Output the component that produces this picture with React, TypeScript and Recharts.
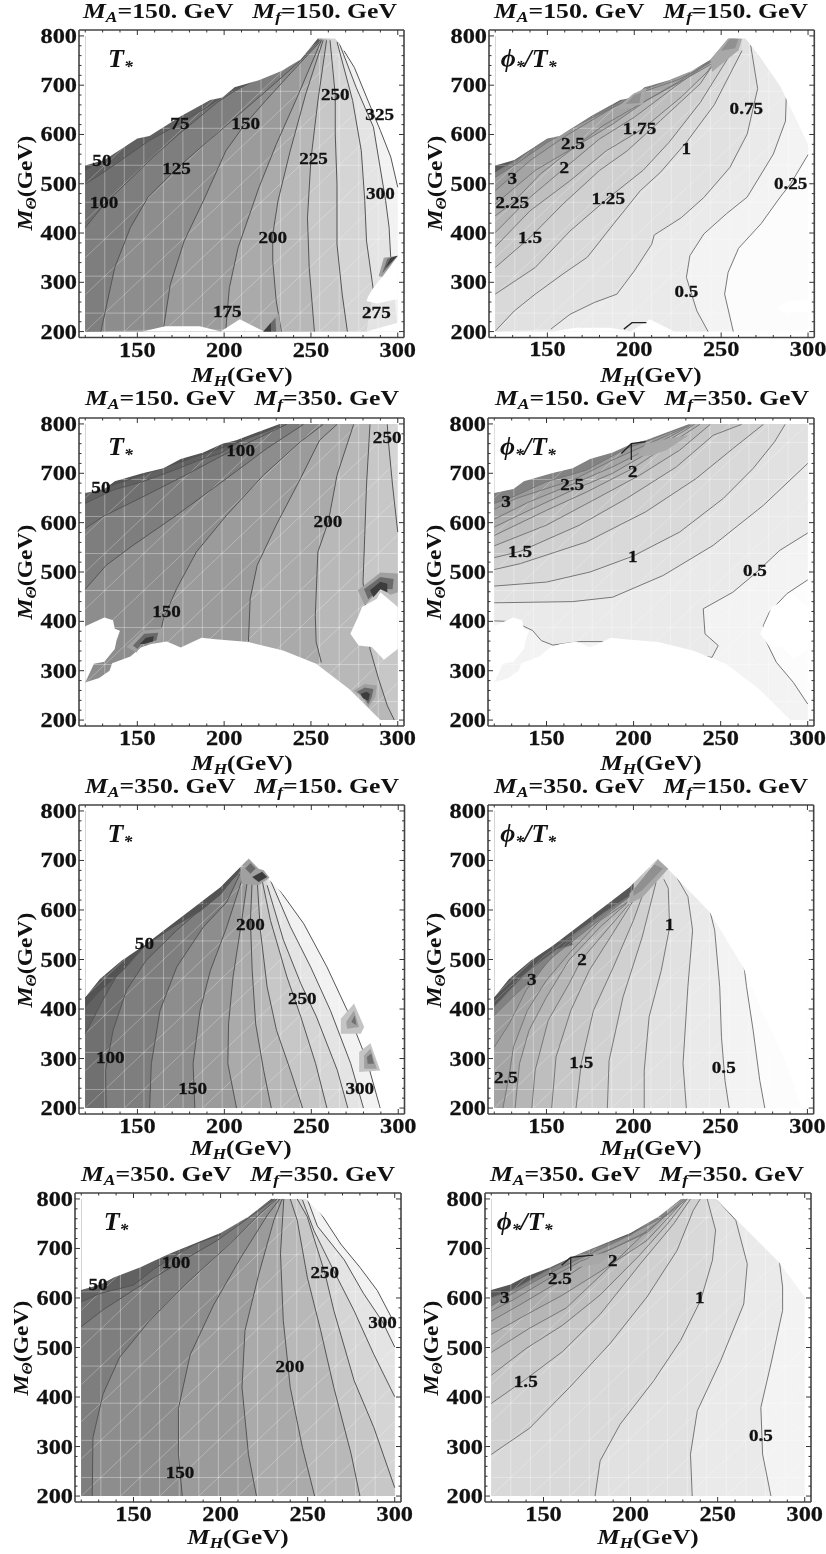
import React from "react";
import { ScatterChart, Scatter, XAxis, YAxis } from "recharts";

type P = [number, number];
type Contour = { level: number; line: P[]; under?: P[] };
type Blob = { ramp: "dark" | "light" | "fan"; layers: P[][] };
type Lab = [number, number, string];

const X_MIN = 120;
const X_MAX = 300;
const Y_MIN = 200;
const Y_MAX = 800;
const X_TICKS = [120, 130, 140, 150, 160, 170, 180, 190, 200, 210, 220, 230, 240, 250, 260, 270, 280, 290, 300];
const Y_TICKS = [200, 220, 240, 260, 280, 300, 320, 340, 360, 380, 400, 420, 440, 460, 480, 500, 520, 540, 560, 580, 600, 620, 640, 660, 680, 700, 720, 740, 760, 780, 800];

// upper edge of the region that has a solution
const TOP_LL: P[] = [[120, 537], [131, 548], [150, 592], [157, 597], [175, 637], [192, 670], [199, 675], [206, 696], [220, 710], [233, 729], [244, 752], [254, 795], [264, 795], [272, 759], [284, 698], [300, 580]];
const TOP_LH: P[] = [[120, 660], [131, 668], [137, 684], [153, 700], [165, 710], [175, 729], [188, 742], [199, 760], [207, 767], [232, 800], [300, 800]];
const TOP_HL: P[] = [[120, 424], [128.6, 461], [141, 498], [153.6, 528], [184, 609], [197.7, 646], [214, 704], [243.8, 596], [263, 485], [276.4, 377], [288, 290], [296.6, 200]];
const TOP_HH: P[] = [[120, 616], [131, 627], [139, 642], [154, 662], [165, 680], [171, 690], [200, 731], [216, 764], [229, 800], [249, 800], [285, 673], [300, 602]];

// white gaps
const HOLES_LL: P[][] = [
  [[300, 350], [291, 311], [286, 289], [283, 272], [282, 262], [288, 257], [300, 266]],
  [[300, 218], [282, 200], [300, 200]],
  [[153, 200], [166, 211], [186, 211], [198, 200], [209, 225], [223, 200]],
];
const HOLES_LH: P[][] = [
  [[120, 276], [128, 285], [134, 300], [135.5, 315], [146, 329], [152, 347], [158, 354], [167, 359], [175, 347], [187, 367], [195, 364], [214, 358], [234, 341], [253, 314], [272, 263], [290, 200], [120, 200]],
  [[120, 390], [131, 408], [136, 402], [137, 385], [140, 381], [138, 361], [137, 344], [131, 318], [125, 314], [120, 276]],
  [[290, 459], [300, 429], [300, 344], [292, 322], [285, 348], [277.5, 351], [272.7, 375], [277.5, 412], [279.4, 429], [288, 446]],
];

// M_A=150, M_f=150
const T_LL: Contour[] = [
  { level: 50, line: [[120, 527], [134, 560], [151, 600], [171, 640], [191, 669], [205, 693], [221, 713], [238, 744], [254, 793]] },
  { level: 75, line: [[120, 500], [128, 517], [142, 551], [157, 588], [174, 621], [190, 655], [203, 686], [221, 716], [238, 750], [254, 791]] },
  { level: 100, line: [[120, 411], [131, 459], [142, 496], [159, 554], [174, 601], [196, 665], [205, 686], [223, 720], [240, 757], [255, 791]] },
  { level: 125, line: [[129, 200], [137, 330], [146, 411], [156, 472], [173, 532], [190, 584], [209, 642], [230, 706], [244, 750], [255, 791]] },
  { level: 150, line: [[165, 205], [169, 296], [177, 384], [188, 465], [201, 567], [212, 621], [224, 669], [238, 723], [256, 791]] },
  { level: 175, line: [[201, 205], [203, 289], [208, 370], [220, 492], [230, 580], [242, 675], [256, 791]] },
  { level: 200, line: [[233, 200], [230, 262], [228, 343], [228, 397], [231, 465], [238, 566], [247, 682], [257, 791]] },
  { level: 225, line: [[252, 200], [249, 330], [248, 431], [250, 550], [254, 668], [259, 791]] },
  { level: 250, line: [[271, 200], [268, 276], [265, 377], [265, 499], [264, 601], [264, 680], [261, 791]] },
  { level: 275, under: [[282, 200]], line: [[286, 283], [282, 384], [281, 466], [279, 567], [274, 669], [265, 788]] },
  { level: 300, under: [[300, 200]], line: [[296, 347], [295, 412], [293, 466], [286, 615], [276, 696], [266, 788]] },
  { level: 325, line: [[300, 493], [296, 554], [290, 608], [282, 676], [275, 736], [269, 770]] },
];
const T_LL_LABELS: Lab[] = [[129.6, 547, "50"], [174.5, 622, "75"], [130.8, 462, "100"], [172.6, 531.5, "125"], [212.4, 622, "150"], [201.8, 240.7, "175"], [228, 391, "200"], [251.5, 550.5, "225"], [264, 680.6, "250"], [287.7, 239, "275"], [290, 480.7, "300"], [289.6, 640.7, "325"]];
const T_LL_BLOBS: Blob[] = [
  { ramp: "dark", layers: [[[222.6, 200], [231.7, 236.6], [232.6, 200]], [[222.6, 200], [229.5, 228], [230, 200]], [[222.6, 200], [227, 218], [227, 200]]] },
  { ramp: "dark", layers: [[[300, 354], [292, 350], [289, 313], [291, 311]], [[300, 354], [294, 348], [291, 318]], [[300, 354], [296, 350], [293, 330]]] },
];
const PHI_LL: Contour[] = [
  { level: 0.25, line: [[257, 200], [252, 276], [254, 320], [260, 369], [273, 419], [284, 473], [290, 500], [300, 559]] },
  { level: 0.5, line: [[242.5, 200], [236, 242], [230, 310], [232, 354], [240, 398], [253, 439], [265, 473], [280, 560], [287, 627], [287.5, 677]] },
  { level: 0.75, line: [[152, 205], [163, 235], [177, 259], [190, 276], [200, 323], [210, 377], [211.5, 396], [227, 431], [240, 472], [255, 533], [265, 601], [271, 693], [267, 781]] },
  { level: 1, line: [[120, 201], [131, 242], [143, 276], [159, 317], [173, 351], [188, 418], [203.5, 486], [215, 523], [230, 584], [246, 660], [262, 770]] },
  { level: 1.25, line: [[120, 276], [143, 330], [163, 404], [185, 471], [205, 527], [220, 584], [238, 665], [255, 761]] },
  { level: 1.5, line: [[120, 330], [140, 391], [159, 459], [180, 527], [196, 567], [215, 628], [238, 703], [254, 788]] },
  { level: 1.75, line: [[120, 372], [140, 445], [163, 506], [184, 567], [205, 611.5], [227, 676], [242, 727], [254, 788]] },
  { level: 2, line: [[120, 401], [140, 472.5], [160, 532], [180, 591], [200, 635], [223, 696], [242, 744], [255, 792]] },
  { level: 2.25, line: [[120, 435], [130, 461], [146, 520], [163, 567], [182, 618], [203.5, 662], [225, 706], [243, 747], [257, 794]] },
  { level: 2.5, line: [[120, 459], [143, 527], [166, 575], [188, 622], [207, 669], [226, 706], [245, 744], [258, 794]] },
  { level: 2.75, line: [[120, 486], [140, 547], [161, 598], [188, 655], [207, 689], [226, 712], [246, 750]] },
  { level: 3, line: [[120, 513], [132, 540], [150, 584], [169, 622], [190, 659], [207, 693], [222, 713], [246, 752]] },
  { level: 3.25, line: [[120, 523], [132, 548], [150, 591], [174, 635], [193, 669], [207, 696]] },
];
const PHI_LL_LABELS: Lab[] = [[129.8, 511, "3"], [129.8, 461, "2.25"], [140, 391, "1.5"], [159.7, 532, "2"], [164.7, 581, "2.5"], [185, 471, "1.25"], [203, 611.5, "1.75"], [230, 571, "1"], [264.5, 652, "0.75"], [230, 281, "0.5"], [290, 501, "0.25"]];
const PHI_LL_BLOBS: Blob[] = [
  { ramp: "fan", layers: [[[190, 654], [199.6, 683], [207, 695], [205, 662], [194, 652]], [[195, 662], [200, 680], [204, 685], [203, 664]]] },
  { ramp: "fan", layers: [[[243.8, 752], [254, 794], [262, 794], [260, 771], [244.8, 727]], [[250, 770], [255, 794], [260, 794], [258, 775]]] },
];
const PHI_LL_MARKS: P[][] = [[[194, 205], [198.7, 218], [207, 218]]];
const HOLES_PHI_LL: P[][] = [[[282, 250], [290, 262], [300, 265], [300, 240], [285, 238]], [[153, 200], [166, 208], [186, 208], [198, 200], [209, 225], [223, 200]]];

// M_A=150, M_f=350
const T_LH: Contour[] = [
  { level: 50, line: [[120, 661], [136, 676], [167, 713], [194, 746], [205, 759], [232, 795]] },
  { level: 75, line: [[120, 639], [136, 666], [153, 683], [171, 706], [186, 727], [197.6, 740], [209, 764], [232, 798]] },
  { level: 100, line: [[120, 588], [130, 612], [153, 652], [176, 693], [197.6, 733.5], [217, 767], [236, 799]] },
  { level: 125, line: [[120, 465], [132, 513.5], [147.5, 554], [172.6, 615], [201.4, 689.5], [224.5, 750], [245.7, 799]] },
  { level: 150, line: [[164, 388], [165, 405], [172.6, 466], [184, 540.6], [201.4, 615], [222.6, 696], [244, 764], [257, 799]] },
  { level: 175, line: [[214, 359], [215, 446], [219, 513.5], [230, 595], [244, 689.5], [255, 767], [265, 799]] },
  { level: 200, line: [[256, 317], [253, 358], [252.5, 412], [254, 540.6], [260, 601.5], [265, 696], [274.6, 799]] },
  { level: 225, line: [[298, 200], [294, 229], [289, 283], [284, 344], [280, 480], [281, 574], [282, 676], [284, 799]] },
  { level: 250, line: [[300, 581], [297, 676], [294.4, 773], [294, 799]] },
];
const T_LH_LABELS: Lab[] = [[129, 670.6, "50"], [209.5, 745.7, "100"], [166.8, 420.7, "150"], [259.8, 601.5, "200"], [293.9, 772.8, "250"]];
const T_LH_BLOBS: Blob[] = [
  { ramp: "dark", layers: [[[277, 463], [290, 499], [300, 497], [300, 459], [296, 454], [290, 466], [281, 432]], [[280.6, 465], [290, 490], [297.6, 486], [297, 465], [290, 466], [283, 445]], [[284, 463], [290, 480], [294, 476], [294, 459], [290, 465], [286, 449]]] },
  { ramp: "dark", layers: [[[143.7, 348], [153, 381], [165, 385], [163, 358], [153, 354], [149.5, 337]], [[147.5, 351], [154, 375], [162, 377], [161, 361], [153, 356], [150, 344]], [[151.4, 354], [155, 367], [159.5, 370], [159, 359], [154, 354]]] },
  { ramp: "dark", layers: [[[274.6, 260], [281, 273], [288, 270], [287, 246], [283, 226], [279.4, 246]], [[276.5, 257.5], [281, 266], [286, 263], [285, 246], [283, 232], [280, 249]], [[278.5, 253], [282, 257.5], [284, 253], [283, 239], [280, 244]]] },
];
const PHI_LH: Contour[] = [
  { level: 0.25, line: [[300, 232.5], [291.7, 276.5], [282, 317], [275.4, 364.5], [274.5, 391.6], [278, 418.7], [288, 456], [300, 484]] },
  { level: 0.5, line: [[120, 401], [127, 400], [136, 391.6], [142, 381.4], [147, 361], [153.6, 352], [169, 359], [182, 359], [245, 327], [248.6, 351], [241, 374.7], [240, 425.5], [257, 459], [269.7, 496.5], [284, 544], [300, 579]] },
  { level: 0.75, line: [[120, 437.6], [165, 440], [188, 449], [217, 493], [245.7, 554], [274.5, 635], [300, 720]] },
  { level: 1, line: [[120, 471.5], [150, 479.6], [175, 500], [199.6, 532], [226.5, 581], [251.5, 649], [268.7, 710], [281, 764], [287, 799]] },
  { level: 1.25, line: [[120, 505], [135, 517], [173, 561], [207, 622], [236, 689.5], [257, 750], [274.5, 799]] },
  { level: 1.5, line: [[120, 529], [135, 542], [169, 595], [196, 649], [224.6, 713], [245.7, 777], [262, 799]] },
  { level: 1.75, line: [[120, 553], [150, 595], [176.6, 645], [203.5, 696], [226.5, 747], [244, 799]] },
  { level: 2, line: [[120, 574], [150, 625], [173, 662], [199.6, 710], [211, 737], [238, 799]] },
  { level: 2.25, line: [[120, 591], [140, 625], [165, 666], [188, 700], [211, 747], [235, 799]] },
  { level: 2.5, line: [[120, 607], [140, 642], [165, 678], [188, 713], [207, 747], [233, 798]] },
  { level: 2.75, line: [[120, 627], [132.5, 649], [150, 669], [165, 686], [188, 727], [232, 797]] },
  { level: 3, line: [[120, 639], [130.6, 652], [150, 683], [172.6, 706], [195.7, 750], [207, 764], [232, 799]] },
];
const PHI_LH_LABELS: Lab[] = [[126.7, 642, "3"], [164.7, 678, "2.5"], [199.6, 703, "2"], [134.8, 542, "1.5"], [199.6, 532, "1"], [269.7, 503, "0.5"]];
const PHI_LH_BLOBS: Blob[] = [{ ramp: "fan", layers: [[[201.5, 733.5], [207, 760], [221, 771], [232, 777.5], [219, 747], [211, 737]]] }];
const PHI_LH_MARKS: P[][] = [[[193, 740], [198.7, 760], [207, 764]], [[198.7, 760], [198.7, 727]]];

// M_A=350, M_f=150
const T_HL: Contour[] = [
  { level: 50, line: [[120, 404], [128, 435], [142, 479], [154, 526.5], [171, 567], [186, 597.5], [197.6, 631], [209, 682]] },
  { level: 75, line: [[120, 350], [130, 417.5], [141, 485], [157, 539], [176, 586], [197.6, 632], [209, 680]] },
  { level: 100, line: [[132, 200], [131.7, 276], [136, 357], [143.7, 438], [155, 498], [172.6, 559], [193.7, 623], [208, 673]] },
  { level: 125, line: [[157, 200], [158, 289.6], [163, 397], [172.6, 485], [188, 566], [201.4, 616], [209, 673]] },
  { level: 150, line: [[183, 200], [182, 289.6], [186, 397], [192, 478], [201.4, 566], [210, 660]] },
  { level: 175, line: [[207, 200], [202, 289.6], [202.4, 370], [205, 465], [210, 579], [213, 653]] },
  { level: 200, line: [[227, 200], [222.6, 276], [218, 370], [216, 478], [215, 579], [216, 660]] },
  { level: 225, line: [[245, 200], [238, 276], [230, 357], [224.6, 444.4], [220.7, 559], [219, 653]] },
  { level: 250, line: [[259, 200], [252.5, 289.6], [244, 384], [236, 464.6], [226.5, 579], [221.7, 660]] },
  { level: 275, line: [[271, 200], [265, 276], [253, 384], [244, 451], [234, 539], [224.6, 650]] },
  { level: 300, line: [[280, 200], [272.7, 289.6], [261, 397], [249.6, 485], [238, 566], [226.5, 660]] },
  { level: 325, line: [[289.6, 200], [282, 296], [270.7, 397], [259, 485], [245.7, 572], [228.4, 656.6]] },
];
const T_HL_LABELS: Lab[] = [[154, 532, "50"], [134.4, 301.7, "100"], [181.8, 240, "150"], [215, 570, "200"], [244.8, 421, "250"], [277.9, 240, "300"]];
const T_HL_BLOBS: Blob[] = [
  { ramp: "dark", layers: [[[209, 673], [214, 702], [219.7, 683.5], [222.6, 680], [226, 665], [219.7, 650], [210, 653]], [[212, 684], [215, 695], [218, 684], [215, 673]], [[216, 666.6], [221.7, 677], [224.6, 666.6], [219.7, 656.6]]] },
  { ramp: "light", layers: [[[267, 380.5], [274.6, 411], [280.4, 363.6], [278.5, 350], [267, 350]], [[270, 374], [274.6, 397], [277.5, 363.6], [270.7, 360]], [[273, 374], [275, 387], [276, 367]]] },
  { ramp: "light", layers: [[[277.5, 313], [284, 331], [289.6, 276], [277.5, 273]], [[280.4, 306], [284, 320], [287.7, 279.5], [280.4, 279.5]], [[282, 303], [284.5, 310], [286, 289.6], [282.4, 289.6]]] },
];
const PHI_HL: Contour[] = [
  { level: 0.25, line: [[275.5, 200], [272.6, 256], [268.8, 357], [265, 445], [263.6, 485]] },
  { level: 0.5, line: [[255, 200], [252.6, 256], [250.6, 343], [249.6, 444], [246.7, 559], [244.2, 595]] },
  { level: 0.75, line: [[230.4, 200], [228.5, 289.6], [231.3, 445], [234, 559], [231.3, 627], [222.6, 680]] },
  { level: 1, line: [[206.2, 200], [206.2, 276], [209, 384], [216, 478], [220.8, 565], [220, 644], [217.5, 662]] },
  { level: 1.25, line: [[185, 200], [186, 296], [194, 424], [205, 545], [213, 656]] },
  { level: 1.5, line: [[167, 200], [170, 290], [177, 397], [188.5, 485], [200, 579], [207.6, 653]] },
  { level: 1.75, line: [[153, 200], [155.5, 303], [164, 397], [174.6, 478], [188, 552], [197.6, 606], [205, 647]] },
  { level: 2, line: [[141.6, 200], [143.5, 276], [151, 377], [163, 451], [170, 499], [186, 565], [197.6, 612]] },
  { level: 2.25, line: [[132, 200], [134.5, 289.6], [140, 357], [150, 424], [163, 499], [181, 566], [196, 613]] },
  { level: 2.5, line: [[125, 200], [129, 276], [131, 323], [139, 397], [150, 458], [163.7, 515], [181, 579], [196.6, 616]] },
  { level: 2.75, line: [[120, 323], [128.6, 370], [138.3, 438], [150, 492], [165, 546], [182.7, 593], [196.6, 623]] },
  { level: 3, line: [[120, 387], [130.6, 424], [141.6, 460], [153.6, 505], [173, 559], [190, 606], [200, 633]] },
  { level: 3.25, line: [[120, 404], [132.5, 451], [148, 505], [169, 559], [188, 606], [200, 633]] },
  { level: 3.5, line: [[120, 415], [129, 445], [142, 483], [156, 520], [165, 530]] },
];
const PHI_HL_LABELS: Lab[] = [[141.5, 460, "3"], [170.5, 500, "2"], [220.8, 570, "1"], [170, 291, "1.5"], [126.7, 261, "2.5"], [251.9, 281.5, "0.5"]];
const PHI_HL_BLOBS: Blob[] = [{ ramp: "fan", layers: [[[214, 702], [220, 683.5], [205.4, 626], [197.7, 613], [197.7, 633], [210, 683.5]], [[212, 692], [217, 684], [205, 640], [200, 628], [200, 640], [209, 680]]] }];

// M_A=350, M_f=350
const T_HH: Contour[] = [
  { level: 50, line: [[120, 614], [130, 634], [146, 654], [163, 681], [175, 695], [200, 728]] },
  { level: 75, line: [[120, 592], [130.6, 609], [150, 626], [162, 659], [175, 688], [198, 734], [217, 771], [229.6, 800]] },
  { level: 100, line: [[120, 542], [132.5, 576], [150, 616], [175, 669], [198, 716], [217, 764], [231, 800]] },
  { level: 125, line: [[126.3, 200], [126.7, 318], [132.5, 406], [142, 480], [159.4, 555], [182.5, 636], [205.6, 710], [222.9, 771], [232.5, 800]] },
  { level: 150, line: [[178, 200], [175.8, 284], [175.8, 377], [182.5, 485], [196, 586], [211.5, 681], [227, 768], [234, 800]] },
  { level: 175, line: [[220.6, 200], [216, 284], [212.3, 420], [214, 534], [222, 649], [230.6, 757], [235.4, 800]] },
  { level: 200, line: [[254, 200], [247, 298], [240, 419.6], [236, 554.8], [234.4, 690], [236.3, 800]] },
  { level: 225, line: [[280, 200], [275, 284.5], [265, 419.6], [257.5, 534], [249.8, 642], [244, 757], [240, 800]] },
  { level: 250, line: [[300, 217], [288, 338.5], [276.7, 433], [265, 575], [260, 649], [249.8, 764], [244, 800]] },
  { level: 275, line: [[300, 400.7], [288, 486], [276.7, 574], [265, 655], [253.6, 736], [247, 798]] },
  { level: 300, line: [[300, 501], [293, 552], [282, 609.6], [271, 677], [255.6, 745], [250, 798]] },
  { level: 325, line: [[300, 548], [290, 615], [280, 662], [269, 709], [255.6, 781]] },
];
const T_HH_LABELS: Lab[] = [[129.6, 627, "50"], [174.4, 671, "100"], [176.7, 247, "150"], [239.8, 461.5, "200"], [259.8, 650.7, "250"], [293, 551, "300"]];
const PHI_HH: Contour[] = [
  { level: 0.5, line: [[280.6, 200], [275.8, 284.5], [274.8, 379], [280.6, 467], [287.3, 575], [287.3, 622], [285.4, 676]] },
  { level: 0.75, line: [[235.4, 200], [234.4, 284.5], [238.3, 372], [251.7, 473], [265, 588], [267, 669], [260.4, 757], [249.8, 798]] },
  { level: 1, line: [[179.6, 200], [182.5, 271], [194, 345], [213.3, 433], [228.7, 514], [240.2, 595], [247, 676], [248.8, 737], [244, 800]] },
  { level: 1.25, line: [[120, 284], [142, 337], [165, 419.6], [188, 507], [209.4, 602], [226.7, 696], [236, 777], [240, 800]] },
  { level: 1.5, line: [[120, 387], [139.8, 436], [161, 492], [182.5, 567], [205.6, 669], [224.8, 750], [234.4, 800]] },
  { level: 1.75, line: [[120, 444], [140, 498], [161, 545], [182.5, 606], [205.6, 688], [221, 749], [232.5, 800]] },
  { level: 2, line: [[120, 490], [142, 539], [163, 579.7], [189.8, 669], [209.4, 736], [232.5, 800]] },
  { level: 2.25, line: [[120, 526.5], [140, 566], [161, 606], [182.5, 653.4], [209.4, 716], [231.5, 800]] },
  { level: 2.5, line: [[120, 553.4], [136.3, 586], [159.4, 634], [182.5, 688], [209.4, 732], [230.6, 800]] },
  { level: 2.75, line: [[120, 573.6], [132.5, 596], [151.7, 636.5], [171, 673.6], [190, 700.6], [209.4, 734]] },
  { level: 3, line: [[120, 584.5], [132.5, 609.6], [151.7, 646.6], [171, 680], [194, 717], [221, 768]] },
  { level: 3.25, line: [[120, 600], [133, 617], [152, 655], [171, 690], [200, 727], [229, 799]] },
];
const PHI_HH_LABELS: Lab[] = [[127.7, 600.7, "3"], [159.4, 639, "2.5"], [189.8, 675, "2"], [139.8, 431, "1.5"], [239.8, 600.7, "1"], [274.8, 321.6, "0.5"]];
const PHI_HH_BLOBS: Blob[] = [{ ramp: "fan", layers: [[[167, 660], [178.6, 687], [190, 694], [182.5, 670]]] }];
const PHI_HH_MARKS: P[][] = [[[160.4, 666], [165.6, 682], [178.6, 686.5]], [[165.6, 682], [165.6, 655]]];

const RAMPS = {
  dark: ["#a0a0a0", "#6a6a6a", "#3c3c3c"],
  light: ["#c4c4c4", "#a0a0a0", "#707070"],
  fan: ["#a8a8a8", "#909090", "#787878"],
};

// upperLeft: +1 when the value grows towards the top left corner, -1 when it falls
const METRICS = {
  T: {
    step: 25,
    upperLeft: -1,
    gray: (v: number) => 90 + (v - 50) * 0.58,
    stroke: "#555",
  },
  PHI: {
    step: 0.25,
    upperLeft: 1,
    gray: (v: number) => (v <= 3 ? 256 - 35 * v : Math.max(85, 151 - (v - 3) * 170)),
    stroke: "#777",
  },
};

const shade = (g: number) => {
  const n = Math.max(0, Math.min(255, Math.round(g)));
  return `rgb(${n},${n},${n})`;
};
const pts = (list: P[]) => list.map(([x, y]) => ({ x, y }));
const NoDot = () => <g />;

function darkSide(c: Contour): P[] {
  const line = [...(c.under ?? []), ...c.line];
  const first = line[0];
  const last = line[line.length - 1];
  const out: P[] = [...line, [last[0], Y_MAX], [X_MIN, Y_MAX]];
  if (first[0] > X_MIN) {
    out.push([X_MIN, Y_MIN]);
    if (first[0] >= X_MAX) out.push([X_MAX, Y_MIN]);
  }
  return out;
}

function maskOf(top: P[]): P[] {
  const last = top[top.length - 1];
  return [...top, [X_MAX, last[1]], [X_MAX, Y_MAX], [X_MIN, Y_MAX]];
}

// faint mesh lines left by the contour renderer
const MESH_X = [131.25, 142.5, 153.75, 165, 176.25, 187.5, 198.75, 210, 221.25, 232.5, 243.75, 255, 266.25, 277.5, 288.75];
const MESH_Y = [237.5, 312.5, 387.5, 462.5, 537.5, 612.5, 687.5, 762.5];
function diagonals(): P[][] {
  const out: P[][] = [];
  for (let k = -14; k < 10; k++) {
    const s = 108.75 + 22.5 * k;
    const xAt = (y: number) => s + ((y - 237.5) * 22.5) / 75;
    const yAt = (x: number) => 237.5 + ((x - s) * 75) / 22.5;
    const a: P = xAt(Y_MIN) >= X_MIN ? [xAt(Y_MIN), Y_MIN] : [X_MIN, yAt(X_MIN)];
    const b: P = xAt(Y_MAX) <= X_MAX ? [xAt(Y_MAX), Y_MAX] : [X_MAX, yAt(X_MAX)];
    if (a[0] < b[0] && a[1] < b[1] && a[0] <= X_MAX && a[1] <= Y_MAX) out.push([a, b]);
  }
  return out;
}
const MESH: { seg: P[]; o: number }[] = [
  ...MESH_X.map((x) => ({ seg: [[x, Y_MIN], [x, Y_MAX]] as P[], o: 0.34 })),
  ...MESH_Y.map((y) => ({ seg: [[X_MIN, y], [X_MAX, y]] as P[], o: 0.34 })),
  ...diagonals().map((seg) => ({ seg, o: 0.28 })),
];

const SERIF = "'Liberation Serif', 'Times New Roman', serif";
const STRETCH = 1.16;

function XTick(props: any) {
  const { x, y, payload, side } = props;
  const major = payload.value % 50 === 0;
  const dir = side === "bottom" ? -1 : 1;
  const label = side === "bottom" && major && payload.value !== 120;
  return (
    <g>
      <line x1={x} x2={x} y1={y} y2={y + dir * (major ? 5 : 2.5)} stroke="#333" strokeWidth={1} />
      {label && (
        <text transform={`translate(${x},${y + 19}) scale(${STRETCH},1)`} textAnchor="middle" fontFamily={SERIF} fontWeight="bold" fontSize={21} fill="#111" stroke="#111" strokeWidth={0.25}>
          {payload.value}
        </text>
      )}
    </g>
  );
}

function YTick(props: any) {
  const { x, y, payload, side } = props;
  const major = payload.value % 100 === 0;
  const dir = side === "left" ? 1 : -1;
  return (
    <g>
      <line x1={x} x2={x + dir * (major ? 5 : 2.5)} y1={y} y2={y} stroke="#333" strokeWidth={1} />
      {side === "left" && major && (
        <text transform={`translate(${x - 2},${y + 7}) scale(${STRETCH},1)`} textAnchor="end" fontFamily={SERIF} fontWeight="bold" fontSize={21} fill="#111" stroke="#111" strokeWidth={0.25}>
          {payload.value}
        </text>
      )}
    </g>
  );
}

function ContourLabel(props: any) {
  const { cx, cy, payload } = props;
  return (
    <text transform={`translate(${cx},${cy + 5.5}) scale(${STRETCH},1)`} textAnchor="middle" fontFamily={SERIF} fontWeight="bold" fontSize={16.5} fill="#111" stroke="#111" strokeWidth={0.25}>
      {payload.text}
    </text>
  );
}

const subStyle: React.CSSProperties = { fontSize: "0.68em", verticalAlign: "-0.28em", lineHeight: 0 };

function MassTitle({ left, top, ma, mf }: { left: number; top: number; ma: string; mf: string }) {
  return (
    <div style={{ position: "absolute", left, top, whiteSpace: "pre", fontFamily: SERIF, fontWeight: "bold", fontSize: 20, lineHeight: "23px", color: "#111", transformOrigin: "0 0", transform: "scaleX(1.285)" }}>
      <i>M<span style={subStyle}>A</span></i>={ma}. GeV{"   "}<i>M<span style={subStyle}>f</span></i>={mf}. GeV
    </div>
  );
}

type PanelProps = {
  left: number;
  top: number;
  width: number;
  height: number;
  ma: string;
  mf: string;
  titleLeft: number;
  titleTop: number;
  labelDrop: number;
  metric: "T" | "PHI";
  edge: P[];
  contours: Contour[];
  labels: Lab[];
  holes?: P[][];
  blobs?: Blob[];
  marks?: P[][];
};

const X_DOMAIN = [116.4, 303.6];
const Y_DOMAIN = [188, 812];
const LEFT_W = 60;
const RIGHT_W = 22;
const TOP_H = 6;
const BOTTOM_H = 30;

function Panel(p: PanelProps) {
  const m = METRICS[p.metric];
  // painted from the biggest region down to the smallest
  const order = [...p.contours].sort((a, b) => (a.level - b.level) * m.upperLeft);
  const base = shade(m.gray(order[0].level - (m.upperLeft * m.step) / 2));
  const labelData = p.labels.map(([x, y, text]) => ({ x, y, text }));
  const axisLine = { stroke: "#444", strokeWidth: 1.6 };
  const fillSeries = (list: P[], fill: string, key: string) => (
    <Scatter key={key} data={pts(list)} shape={NoDot} line={{ fill, stroke: "none" }} lineType="joint" isAnimationActive={false} />
  );
  const lineSeries = (list: P[], stroke: string, width: number, key: string, opacity = 1) => (
    <Scatter key={key} data={pts(list)} shape={NoDot} line={{ fill: "none", stroke, strokeWidth: width, strokeOpacity: opacity }} lineType="joint" isAnimationActive={false} />
  );
  return (
    <>
      <MassTitle left={p.titleLeft} top={p.titleTop} ma={p.ma} mf={p.mf} />
      <div style={{ position: "absolute", left: p.left - LEFT_W, top: p.top - TOP_H }}>
        <ScatterChart width={p.width + LEFT_W + RIGHT_W} height={p.height + TOP_H + BOTTOM_H} margin={{ top: 0, right: 0, bottom: 0, left: 0 }}>
          <XAxis type="number" dataKey="x" domain={X_DOMAIN} ticks={X_TICKS} interval={0} height={BOTTOM_H} tickSize={0} tickMargin={0} axisLine={axisLine} tickLine={false} tick={(t: any) => <XTick {...t} side="bottom" />} allowDataOverflow />
          <XAxis xAxisId="top" orientation="top" type="number" dataKey="x" domain={X_DOMAIN} ticks={X_TICKS} interval={0} height={TOP_H} tickSize={0} tickMargin={0} axisLine={axisLine} tickLine={false} tick={(t: any) => <XTick {...t} side="top" />} allowDataOverflow />
          <YAxis type="number" dataKey="y" domain={Y_DOMAIN} ticks={Y_TICKS} interval={0} width={LEFT_W} tickSize={0} tickMargin={0} axisLine={axisLine} tickLine={false} tick={(t: any) => <YTick {...t} side="left" />} allowDataOverflow />
          <YAxis yAxisId="right" orientation="right" type="number" dataKey="y" domain={Y_DOMAIN} ticks={Y_TICKS} interval={0} width={RIGHT_W} tickSize={0} tickMargin={0} axisLine={axisLine} tickLine={false} tick={(t: any) => <YTick {...t} side="right" />} allowDataOverflow />

          {fillSeries([[X_MIN, Y_MIN], [X_MIN, Y_MAX], [X_MAX, Y_MAX], [X_MAX, Y_MIN]], base, "base")}
          {order.map((c) => fillSeries(darkSide(c), shade(m.gray(c.level + (m.upperLeft * m.step) / 2)), `band${c.level}`))}
          {MESH.map((l, i) => lineSeries(l.seg, "#fff", 1, `mesh${i}`, l.o))}
          {order.map((c) => lineSeries(c.line, m.stroke, 1, `line${c.level}`))}
          {fillSeries(maskOf(p.edge), "#fff", "mask")}
          {(p.holes ?? []).map((h, i) => fillSeries(h, "#fff", `hole${i}`))}
          {(p.blobs ?? []).flatMap((b, i) => b.layers.map((l, j) => fillSeries(l, RAMPS[b.ramp][j], `blob${i}-${j}`)))}
          {(p.marks ?? []).map((l, i) => lineSeries(l, "#222", 1.3, `mark${i}`))}
          <Scatter data={labelData} shape={ContourLabel} isAnimationActive={false} />
        </ScatterChart>
      </div>
      <div style={{ position: "absolute", left: p.left + (p.metric === "T" ? 29 : 12), top: p.top + 15, fontFamily: SERIF, fontWeight: "bold", fontStyle: "italic", fontSize: 26, lineHeight: "28px", color: "#111", whiteSpace: "pre" }}>
        {p.metric === "T" ? (
          <>T<span style={subStyle}>*</span></>
        ) : (
          <>ϕ<span style={subStyle}>*</span>/T<span style={subStyle}>*</span></>
        )}
      </div>
      <div style={{ position: "absolute", left: p.left + p.width / 2 - 100, width: 200, top: p.top + p.height + p.labelDrop - 11.5, textAlign: "center", fontFamily: SERIF, fontWeight: "bold", fontSize: 20, lineHeight: "23px", color: "#111", whiteSpace: "pre", transform: "scaleX(1.26)" }}>
        <i>M<span style={subStyle}>H</span></i>(GeV)
      </div>
      <div style={{ position: "absolute", left: p.left - 54 - 100, width: 200, top: p.top + p.height / 2 - 12, textAlign: "center", transform: "rotate(-90deg) scaleX(1.18)", fontFamily: SERIF, fontWeight: "bold", fontSize: 20, lineHeight: "24px", color: "#111", whiteSpace: "pre" }}>
        <i>M<span style={subStyle}>Θ</span></i>(GeV)
      </div>
    </>
  );
}

export default function App() {
  return (
    <div style={{ position: "absolute", left: 0, top: 0, width: 826, height: 1554, background: "#fff", overflow: "hidden", filter: "blur(0.45px)" }}>
      <Panel left={79} top={29.5} width={325} height={307.5} ma="150" mf="150" titleLeft={83} titleTop={0} labelDrop={38} metric="T" edge={TOP_LL} contours={T_LL} labels={T_LL_LABELS} holes={HOLES_LL} blobs={T_LL_BLOBS} />
      <Panel left={488.7} top={29.5} width={325.3} height={307.5} ma="150" mf="150" titleLeft={494} titleTop={0} labelDrop={38} metric="PHI" edge={TOP_LL} contours={PHI_LL} labels={PHI_LL_LABELS} holes={HOLES_PHI_LL} blobs={PHI_LL_BLOBS} marks={PHI_LL_MARKS} />
      <Panel left={79} top={417.5} width={325} height={308} ma="150" mf="350" titleLeft={85} titleTop={387} labelDrop={37.5} metric="T" edge={TOP_LH} contours={T_LH} labels={T_LH_LABELS} holes={HOLES_LH} blobs={T_LH_BLOBS} />
      <Panel left={488} top={417.5} width={326} height={308} ma="150" mf="350" titleLeft={495} titleTop={387} labelDrop={37.5} metric="PHI" edge={TOP_LH} contours={PHI_LH} labels={PHI_LH_LABELS} holes={HOLES_LH} blobs={PHI_LH_BLOBS} marks={PHI_LH_MARKS} />
      <Panel left={78.5} top={805} width={325.5} height={309} ma="350" mf="150" titleLeft={85} titleTop={775} labelDrop={34} metric="T" edge={TOP_HL} contours={T_HL} labels={T_HL_LABELS} blobs={T_HL_BLOBS} />
      <Panel left={488.3} top={805} width={325.7} height={309} ma="350" mf="150" titleLeft={494} titleTop={775} labelDrop={34} metric="PHI" edge={TOP_HL} contours={PHI_HL} labels={PHI_HL_LABELS} blobs={PHI_HL_BLOBS} />
      <Panel left={74.7} top={1193.3} width={326} height={309} ma="350" mf="350" titleLeft={81} titleTop={1163} labelDrop={35} metric="T" edge={TOP_HH} contours={T_HH} labels={T_HH_LABELS} />
      <Panel left={484.7} top={1193.3} width={326} height={309} ma="350" mf="350" titleLeft={490} titleTop={1163} labelDrop={35} metric="PHI" edge={TOP_HH} contours={PHI_HH} labels={PHI_HH_LABELS} blobs={PHI_HH_BLOBS} marks={PHI_HH_MARKS} />
    </div>
  );
}
